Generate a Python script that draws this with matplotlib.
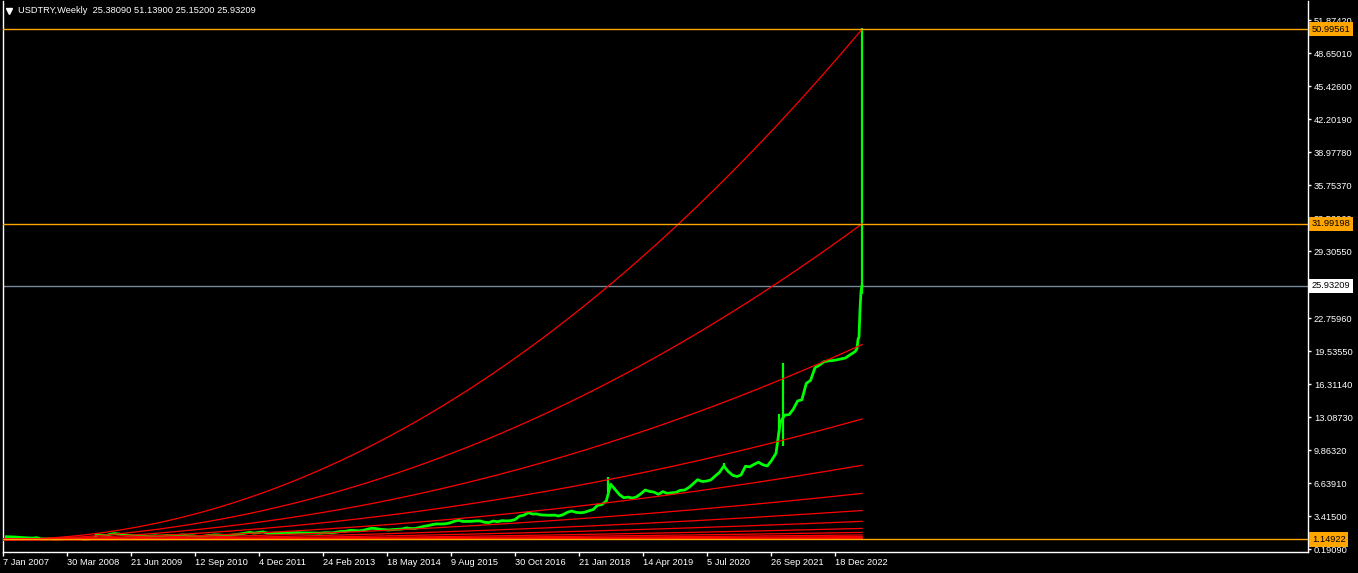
import numpy as np
import pandas as pd
import matplotlib
matplotlib.use("Agg")
import matplotlib.pyplot as plt

FONT = ["Liberation Sans", "DejaVu Sans"]
FS = 6.7
START = pd.Timestamp("2007-01-07")

# ── price data (monthly closes Jan 2007 .. Apr 2023) ──
monthly_close = [
    1.42, 1.41, 1.39, 1.36, 1.33, 1.31, 1.28, 1.33, 1.21, 1.20, 1.21, 1.17,   # 2007
    1.18, 1.20, 1.32, 1.27, 1.23, 1.23, 1.17, 1.20, 1.27, 1.60, 1.57, 1.54,   # 2008
    1.67, 1.73, 1.68, 1.59, 1.55, 1.54, 1.48, 1.50, 1.48, 1.47, 1.51, 1.49,   # 2009
    1.50, 1.54, 1.52, 1.49, 1.58, 1.58, 1.51, 1.51, 1.45, 1.43, 1.51, 1.55,   # 2010
    1.60, 1.59, 1.55, 1.52, 1.58, 1.63, 1.70, 1.77, 1.85, 1.77, 1.83, 1.89,   # 2011
    1.77, 1.75, 1.78, 1.77, 1.84, 1.81, 1.80, 1.82, 1.79, 1.79, 1.79, 1.78,   # 2012
    1.76, 1.80, 1.81, 1.79, 1.87, 1.93, 1.94, 2.04, 2.03, 1.99, 2.03, 2.15,   # 2013
    2.25, 2.22, 2.14, 2.11, 2.08, 2.12, 2.14, 2.17, 2.28, 2.22, 2.22, 2.33,   # 2014
    2.43, 2.50, 2.60, 2.67, 2.66, 2.68, 2.77, 2.92, 3.03, 2.91, 2.91, 2.92,   # 2015
    2.96, 2.96, 2.83, 2.80, 2.95, 2.88, 2.99, 2.96, 2.99, 3.10, 3.43, 3.52,   # 2016
    3.78, 3.64, 3.64, 3.55, 3.53, 3.51, 3.53, 3.45, 3.56, 3.80, 3.93, 3.80,   # 2017
    3.76, 3.80, 3.95, 4.07, 4.49, 4.57, 4.91, 6.55, 6.05, 5.53, 5.23, 5.29,   # 2018
    5.19, 5.32, 5.63, 5.98, 5.84, 5.78, 5.56, 5.83, 5.65, 5.71, 5.74, 5.95,   # 2019
    5.98, 6.23, 6.60, 6.99, 6.82, 6.85, 6.96, 7.35, 7.70, 8.33, 7.80, 7.43,   # 2020
    7.30, 7.45, 8.30, 8.25, 8.49, 8.70, 8.45, 8.33, 8.87, 9.57, 12.60, 13.30, # 2021
    13.35, 13.85, 14.68, 14.80, 16.40, 16.70, 17.93, 18.18, 18.50, 18.60, 18.63, 18.70,  # 2022
    18.80, 18.87, 19.17, 19.44,                                               # 2023
]
weekly_dates = ["2023-05-07", "2023-05-14", "2023-05-21", "2023-05-28",
                "2023-06-04", "2023-06-11", "2023-06-18"]
weekly_close = [19.50, 19.65, 19.80, 20.70, 20.95, 23.55, 25.38]

# weeks with a long high-low range
spike_dates = ["2008-10-19", "2018-08-12", "2020-11-01", "2021-11-21", "2021-12-19"]
spike_low = [1.50, 5.80, 8.20, 11.50, 10.25]
spike_high = [1.78, 7.24, 8.58, 13.45, 18.36]

last_bar_date = "2023-06-25"
last_open, last_high, last_low, last_close = 25.38090, 51.13900, 25.15200, 25.93209

# ── fan curves: start at the low, end values at the last bar ──
fan_base = 1.14922
fan_ends = [50.99561, 31.99198, 20.19, 12.92, 8.40, 5.65, 3.98, 2.92, 2.23,
            1.84, 1.59, 1.44, 1.34, 1.28, 1.24, 1.21, 1.19, 1.18, 1.17, 1.16]

level_lines = [50.99561, 31.99198, 1.14922]

ytick_vals = [51.87420, 48.65010, 45.42600, 42.20190, 38.97780, 35.75370,
              32.52960, 29.30550, 22.75960, 19.53550, 16.31140, 13.08730,
              9.86320, 6.63910, 3.41500, 0.19090]
xtick_dates = ["2007-01-07", "2008-03-30", "2009-06-21", "2010-09-12", "2011-12-04",
               "2013-02-24", "2014-05-18", "2015-08-09", "2016-10-30", "2018-01-21",
               "2019-04-14", "2020-07-05", "2021-09-26", "2022-12-18"]


def weeks(dates):
    d = pd.to_datetime(pd.Series(dates))
    return ((d - START).dt.days / 7.0).to_numpy()


month_ends = pd.date_range("2007-02-01", periods=len(monthly_close), freq="MS") - pd.Timedelta(days=1)
x_close = np.concatenate([weeks(month_ends), weeks(weekly_dates), weeks([last_bar_date])])
y_close = np.concatenate([monthly_close, weekly_close, [last_close]])
x_last = weeks([last_bar_date])[0]

W, H = 1358, 573
fig = plt.figure(figsize=(W / 100, H / 100), dpi=100, facecolor="black")
ax = fig.add_axes([2.7 / W, 1 - 551.7 / H, (1307.7 - 2.7) / W, 551.7 / H - 0.001])
ax.set_facecolor("black")

# price
ax.plot(x_close, y_close, color="#00FF00", lw=2.0, zorder=2)
ax.vlines(weeks(spike_dates), spike_low, spike_high, color="#00FF00", lw=1.6, zorder=2)
ax.vlines([x_last], [last_low], [last_high], color="#00FF00", lw=1.6, zorder=2)

# fan
t = np.linspace(0, x_last, 400)
for v in fan_ends:
    ax.plot(t, fan_base + (v - fan_base) * (t / x_last) ** 2, color="#FF0000", lw=0.9, zorder=3)

for lv in level_lines:
    ax.axhline(lv, color="#FFA500", lw=1.0, zorder=4)
ax.axhline(last_close, color="#778899", lw=1.0, zorder=1)

ax.set_xlim(-0.3, 1304.7)
ax.set_ylim(-0.044, 53.80)

for side in ("left", "bottom", "right"):
    ax.spines[side].set_color("white")
    ax.spines[side].set_linewidth(1.0)
ax.spines["top"].set_visible(False)

ax.yaxis.tick_right()
ax.set_yticks(ytick_vals)
ax.set_yticklabels([f"{v:.5f}" for v in ytick_vals], family=FONT, fontsize=FS, color="white")
ax.tick_params(axis="y", colors="white", length=2.5, width=1, pad=2)

xd = pd.to_datetime(xtick_dates)
ax.set_xticks(weeks(xtick_dates))
ax.set_xticklabels([f"{d.day} {d.strftime('%b %Y')}" for d in xd],
                   family=FONT, fontsize=FS, color="white", ha="left")
ax.tick_params(axis="x", colors="white", length=3, width=1, pad=1.5)


def price_tag(y, text, face):
    ax.annotate(text, xy=(1, y), xycoords=("axes fraction", "data"),
                xytext=(3.0, 0), textcoords="offset points", ha="left", va="center",
                fontsize=FS, family=FONT, color="black", zorder=10, annotation_clip=False,
                bbox=dict(boxstyle="square,pad=0.28", fc=face, ec="none"))


for lv in level_lines:
    price_tag(lv, f"{lv:.5f}", "#FFA500")
price_tag(last_close, f"{last_close:.5f}", "white")

# header
fig.add_artist(plt.Line2D([9 / W], [1 - 10.5 / H], marker="v", ms=4.5, color="white",
                          transform=fig.transFigure))
fig.text(18 / W, 1 - 10.7 / H,
         f"USDTRY,Weekly  {last_open:.5f} {last_high:.5f} {last_low:.5f} {last_close:.5f}",
         family=FONT, fontsize=FS, color="white", va="center", ha="left")

fig.savefig("out.png", dpi=100, facecolor="black")
